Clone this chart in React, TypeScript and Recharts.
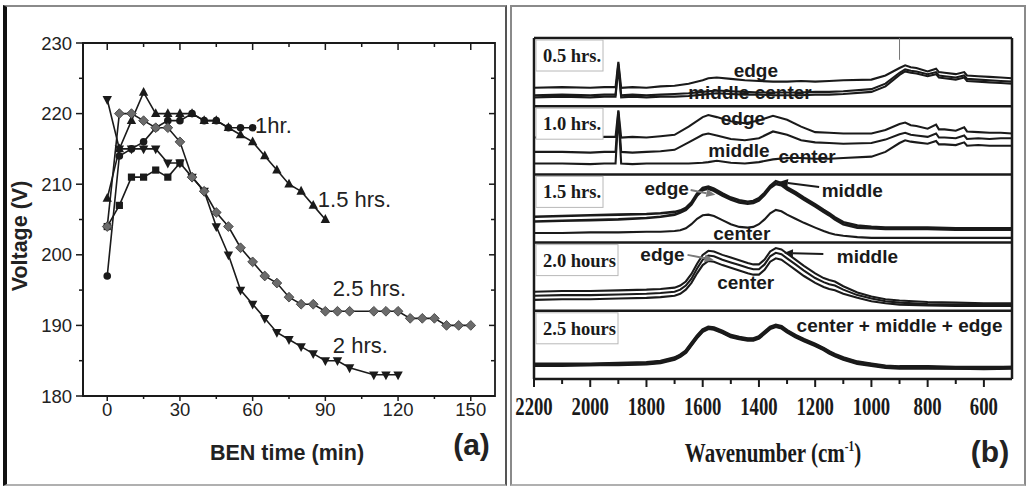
import React from "react";
import {
  LineChart,
  Line,
  XAxis,
  YAxis,
  ReferenceArea,
  ReferenceDot,
  ReferenceLine,
} from "recharts";

const SANS = '"Liberation Sans", Arial, Helvetica, sans-serif';
const SERIF = '"Liberation Serif", "Times New Roman", Times, serif';
const INK = "#1a1a1a";

/* ---------- (a) discharge voltage during BEN ---------- */

const T_05 = [0, 5, 10, 15, 20, 25, 30];
const V_05 = [204, 207, 211, 211, 212, 211, 213];

const T_10 = [0, 5, 10, 15, 20, 25, 30, 35, 40, 45, 50, 55, 60];
const V_10 = [197, 214, 215, 216, 218, 219, 219, 220, 219, 219, 218, 218, 218];

const T_15 = [0, 5, 10, 15, 20, 25, 30, 35, 40, 45, 50, 55, 60, 65, 70, 75, 80, 85, 90];
const V_15 = [208, 215, 219, 223, 220, 220, 220, 220, 219, 219, 218, 217, 216, 214, 212, 210, 209, 207, 205];

const T_20 = [0, 5, 10, 15, 20, 25, 30, 35, 40, 45, 50, 55, 60, 65, 70, 75, 80, 85, 90, 95, 100, 110, 115, 120];
const V_20 = [222, 215, 215, 215, 215, 213, 213, 211, 209, 204, 200, 195, 193, 191, 189, 188, 187, 186, 185, 185, 184, 183, 183, 183];

const T_25 = [
  0, 5, 10, 15, 20, 25, 30, 35, 40, 45, 50, 55, 60, 65, 70, 75, 80, 85, 90, 95, 100,
  110, 115, 120, 125, 130, 135, 140, 145, 150,
];
const V_25 = [
  204, 220, 220, 219, 218, 218, 216, 211, 209, 206, 204, 201, 199, 197, 196, 194, 193, 193, 192, 192, 192,
  192, 192, 192, 191, 191, 191, 190, 190, 190,
];

const TIME_TICKS = [0, 15, 30, 45, 60, 75, 90, 105, 120, 135, 150];
const VOLT_TICKS = [180, 185, 190, 195, 200, 205, 210, 215, 220, 225, 230];

// where the run names sit (left end of text, vertical middle)
const RUN_TAGS = [
  { text: "1hr.", t: 61, v: 218.4 },
  { text: "1.5 hrs.", t: 86.9, v: 207.9 },
  { text: "2.5 hrs.", t: 93.1, v: 195.2 },
  { text: "2 hrs.", t: 93.1, v: 187.2 },
];

/* ---------- (b) Raman spectra, stacked by treatment time ---------- */

const WN_A = [
  2200, 2100, 2000, 1950, 1910, 1900, 1890, 1850, 1800, 1750, 1700, 1650, 1600, 1580, 1550,
  1500, 1450, 1400, 1350, 1300, 1250, 1200, 1150, 1100, 1000, 950, 900, 880, 860, 840,
  800, 770, 760, 740, 700, 670, 660, 620, 580, 540, 500,
];
const S05_EDGE = [
  27, 28, 27, 28, 28, 65, 27, 28, 27, 29, 30, 33, 38, 41, 42,
  40, 38, 37, 36, 36, 37, 36, 37, 38, 39, 45, 56, 60, 57, 56,
  51, 55, 50, 49, 47, 50, 45, 44, 43, 42, 41,
];
const S05_MIDDLE = [
  16, 17, 16, 17, 17, 62, 16, 17, 16, 17, 18, 19, 21, 22, 23,
  22, 21, 20, 20, 20, 20, 21, 21, 22, 25, 33, 49, 54, 52, 51,
  47, 50, 45, 44, 42, 45, 40, 39, 38, 37, 36,
];
const S05_CENTER = [
  13, 14, 13, 14, 14, 58, 13, 14, 13, 14, 14, 15, 17, 18, 19,
  18, 17, 17, 16, 16, 16, 17, 17, 18, 21, 29, 46, 51, 49, 48,
  44, 47, 42, 41, 39, 42, 37, 36, 35, 34, 33,
];
const S10_EDGE = [
  54, 55, 54, 55, 55, 94, 54, 55, 54, 56, 58, 70, 84, 87, 84,
  78, 75, 79, 86, 80, 70, 62, 61, 60, 60, 65, 74, 76, 72, 71,
  67, 73, 66, 66, 64, 69, 63, 62, 61, 61, 60,
];
const S10_MIDDLE = [
  33, 33, 32, 33, 33, 92, 33, 32, 33, 34, 36, 47, 58, 60, 57,
  52, 50, 53, 63, 58, 50, 47, 46, 45, 46, 51, 59, 61, 58, 57,
  55, 60, 54, 54, 53, 57, 52, 53, 52, 53, 53,
];
const S10_CENTER = [
  16, 16, 15, 16, 16, 88, 16, 15, 16, 16, 16, 16, 17, 18, 20,
  17, 16, 18, 22, 24, 24, 23, 23, 24, 26, 33, 46, 50, 48, 47,
  45, 49, 44, 44, 43, 47, 42, 43, 42, 42, 42,
];

const WN_B = [
  2200, 2100, 2000, 1900, 1800, 1750, 1700, 1680, 1660, 1640,
  1620, 1600, 1580, 1560, 1530, 1500, 1470, 1440, 1420, 1400,
  1380, 1360, 1340, 1320, 1300, 1270, 1240, 1200, 1170, 1150,
  1130, 1100, 1050, 1000, 950, 900, 800, 700, 600, 500,
];
const S15_EDGE = [
  38, 39, 40, 41, 42, 43, 45, 47, 51, 59,
  72, 80, 82, 79, 72, 66, 62, 60, 61, 65,
  73, 83, 90, 87, 81, 74, 66, 56, 48, 43,
  37, 30, 25, 23, 22, 22, 22, 21, 21, 21,
];
const S15_MIDDLE = [
  31, 32, 33, 34, 36, 38, 41, 44, 48, 56,
  69, 77, 79, 76, 69, 63, 59, 57, 58, 62,
  70, 80, 86, 84, 78, 71, 63, 53, 45, 40,
  34, 27, 22, 21, 20, 20, 20, 19, 19, 19,
];
const S15_CENTER = [
  14, 14, 15, 15, 16, 16, 17, 18, 21, 27,
  35, 40, 41, 39, 33, 27, 23, 22, 23, 27,
  34, 43, 48, 46, 41, 35, 29, 22, 17, 14,
  12, 10, 8, 7, 7, 7, 7, 7, 7, 7,
];
const S20_EDGE = [
  28, 29, 29, 30, 31, 32, 34, 37, 43, 54,
  69, 82, 88, 87, 82, 78, 74, 70, 68, 68,
  75, 87, 92, 90, 84, 75, 66, 55, 48, 45,
  43, 36, 27, 21, 17, 15, 13, 12, 11, 11,
];
const S20_MIDDLE = [
  22, 23, 23, 24, 25, 26, 28, 31, 37, 47,
  62, 75, 81, 80, 75, 71, 67, 63, 61, 61,
  68, 80, 85, 83, 77, 68, 59, 48, 42, 39,
  37, 31, 23, 18, 14, 12, 10, 9, 9, 9,
];
const S20_CENTER = [
  16, 17, 17, 18, 19, 20, 22, 25, 31, 41,
  55, 67, 73, 72, 67, 63, 59, 55, 53, 53,
  60, 72, 77, 75, 69, 60, 51, 41, 35, 32,
  30, 25, 19, 14, 11, 9, 8, 7, 7, 7,
];
const S25_CENTER = [
  20, 20, 21, 21, 22, 24, 29, 33, 39, 50,
  61, 70, 74, 73, 68, 62, 59, 57, 57, 60,
  67, 74, 77, 75, 69, 62, 56, 49, 43, 38,
  34, 29, 23, 20, 17, 16, 16, 16, 15, 16,
];
const S25_MIDDLE = [
  21, 21, 21, 22, 23, 25, 30, 34, 40, 51,
  62, 71, 75, 74, 69, 63, 60, 58, 58, 61,
  68, 75, 78, 76, 70, 63, 57, 50, 44, 39,
  35, 30, 24, 21, 18, 17, 17, 16, 16, 17,
];
const S25_EDGE = [
  22, 22, 22, 23, 24, 26, 31, 35, 41, 52,
  63, 72, 76, 75, 70, 64, 61, 59, 59, 62,
  69, 76, 79, 77, 71, 64, 58, 51, 45, 40,
  36, 31, 25, 22, 19, 18, 18, 17, 17, 17,
];

const WN_TICKS = [2200, 2100, 2000, 1900, 1800, 1700, 1600, 1500, 1400, 1300, 1200, 1100, 1000, 900, 800, 700, 600];
const BAND_EDGES = [100, 200, 300, 400, 500];

// each band is 100 units tall; 0 = 2.5 hours at the bottom, 4 = 0.5 hrs at the top
const BAND_TAGS = [
  { text: "0.5 hrs.", band: 4, w: 67 },
  { text: "1.0 hrs.", band: 3, w: 67 },
  { text: "1.5 hrs.", band: 2, w: 67 },
  { text: "2.0 hours", band: 1, w: 82 },
  { text: "2.5 hours", band: 0, w: 82 },
];

const NOTES = [
  { text: "edge", w: 1411, y: 452 },
  { text: "middle center", w: 1432, y: 421 },
  { text: "edge", w: 1457, y: 383 },
  { text: "middle", w: 1471, y: 336 },
  { text: "center", w: 1229, y: 327 },
  { text: "edge", w: 1728, y: 279 },
  { text: "middle", w: 1068, y: 277 },
  { text: "center", w: 1461, y: 214 },
  { text: "edge", w: 1743, y: 183 },
  { text: "center", w: 1447, y: 142 },
  { text: "middle", w: 1014, y: 180 },
  { text: "center + middle + edge", w: 900, y: 79 },
];

const ARROWS = [
  { from: [1643, 277], to: [1555, 270], color: "#7a7a7a" },
  { from: [1186, 281.5], to: [1329, 289], color: INK },
  { from: [1654, 182], to: [1561, 174.5], color: "#7a7a7a" },
  { from: [1171, 183.3], to: [1311, 184.8], color: INK },
];

/* ---------- helpers ---------- */

const runPoints = (ts: number[], vs: number[]) => ts.map((t, i) => ({ t, v: vs[i] }));
const bandPoints = (wn: number[], vals: number[], band: number) =>
  wn.map((w, i) => ({ w, y: vals[i] + band * 100 }));

type Mark = "square" | "circle" | "up" | "down" | "diamond";

const RUNS: { id: string; data: { t: number; v: number }[]; mark: Mark }[] = [
  { id: "0.5", data: runPoints(T_05, V_05), mark: "square" },
  { id: "1.0", data: runPoints(T_10, V_10), mark: "circle" },
  { id: "1.5", data: runPoints(T_15, V_15), mark: "up" },
  { id: "2.0", data: runPoints(T_20, V_20), mark: "down" },
  { id: "2.5", data: runPoints(T_25, V_25), mark: "diamond" },
];

const SPECTRA = [
  { id: "05e", data: bandPoints(WN_A, S05_EDGE, 4), width: 2.1 },
  { id: "05m", data: bandPoints(WN_A, S05_MIDDLE, 4), width: 2.1 },
  { id: "05c", data: bandPoints(WN_A, S05_CENTER, 4), width: 2.1 },
  { id: "10e", data: bandPoints(WN_A, S10_EDGE, 3), width: 2.1 },
  { id: "10m", data: bandPoints(WN_A, S10_MIDDLE, 3), width: 2.1 },
  { id: "10c", data: bandPoints(WN_A, S10_CENTER, 3), width: 2.1 },
  { id: "15e", data: bandPoints(WN_B, S15_EDGE, 2), width: 2.6 },
  { id: "15m", data: bandPoints(WN_B, S15_MIDDLE, 2), width: 2.6 },
  { id: "15c", data: bandPoints(WN_B, S15_CENTER, 2), width: 2.1 },
  { id: "20e", data: bandPoints(WN_B, S20_EDGE, 1), width: 2.1 },
  { id: "20m", data: bandPoints(WN_B, S20_MIDDLE, 1), width: 2.1 },
  { id: "20c", data: bandPoints(WN_B, S20_CENTER, 1), width: 2.1 },
  { id: "25c", data: bandPoints(WN_B, S25_CENTER, 0), width: 3.2 },
  { id: "25m", data: bandPoints(WN_B, S25_MIDDLE, 0), width: 3.2 },
  { id: "25e", data: bandPoints(WN_B, S25_EDGE, 0), width: 3.2 },
];

/* ---------- layout ---------- */

const A_MARGIN = { top: 43, right: 15, bottom: 61, left: 23 };
const A_W = 510;
const A_H = 487;
const A_TOP = A_MARGIN.top;
const A_RIGHT = A_W - A_MARGIN.right;

function markerRenderer(kind: Mark) {
  return (p: any) => {
    const { cx, cy, index } = p;
    const k = `${kind}-${index}`;
    if (typeof cx !== "number" || typeof cy !== "number") return <g key={k} />;
    if (kind === "circle") return <circle key={k} cx={cx} cy={cy} r={3.8} fill={INK} />;
    if (kind === "square")
      return <rect key={k} x={cx - 3.6} y={cy - 3.6} width={7.2} height={7.2} fill={INK} />;
    if (kind === "up")
      return (
        <polygon
          key={k}
          points={`${cx},${cy - 5.4} ${cx - 4.7},${cy + 3.4} ${cx + 4.7},${cy + 3.4}`}
          fill={INK}
        />
      );
    if (kind === "down")
      return (
        <polygon
          key={k}
          points={`${cx},${cy + 5.4} ${cx - 4.7},${cy - 3.4} ${cx + 4.7},${cy - 3.4}`}
          fill={INK}
        />
      );
    return (
      <polygon
        key={k}
        points={`${cx},${cy - 4.9} ${cx + 4.9},${cy} ${cx},${cy + 4.9} ${cx - 4.9},${cy}`}
        fill="#6b6b6b"
        stroke="#3a3a3a"
        strokeWidth={0.8}
      />
    );
  };
}

// bottom ticks point out, mirrored ticks on the top edge point in
function TimeTick(props: any) {
  const { x, y, payload } = props;
  const major = payload.value % 30 === 0;
  return (
    <g>
      <line x1={x} x2={x} y1={y} y2={y + (major ? 5 : 3)} stroke={INK} strokeWidth={1.5} />
      <line x1={x} x2={x} y1={A_TOP} y2={A_TOP + (major ? 7 : 4)} stroke={INK} strokeWidth={1.5} />
      {major && (
        <text x={x} y={y + 20} textAnchor="middle" fontFamily={SANS} fontSize={18.5} fill="#222">
          {payload.value}
        </text>
      )}
    </g>
  );
}

function VoltTick(props: any) {
  const { x, y, payload } = props;
  const major = payload.value % 10 === 0;
  return (
    <g>
      <line x1={x - (major ? 7 : 4)} x2={x} y1={y} y2={y} stroke={INK} strokeWidth={1.5} />
      <line x1={A_RIGHT - (major ? 6 : 4)} x2={A_RIGHT} y1={y} y2={y} stroke={INK} strokeWidth={1.5} />
      {major && (
        <text x={x - 11} y={y + 6.6} textAnchor="end" fontFamily={SANS} fontSize={18.5} fill="#222">
          {payload.value}
        </text>
      )}
    </g>
  );
}

function WaveTick(props: any) {
  const { x, y, payload } = props;
  const major = payload.value % 200 === 0;
  return (
    <g>
      <line x1={x} x2={x} y1={y} y2={y + (major ? 8 : 5)} stroke={INK} strokeWidth={2} />
      {major && (
        <text
          transform={`translate(${x},${y + 36}) scale(0.72,1)`}
          textAnchor="middle"
          fontFamily={SERIF}
          fontWeight="bold"
          fontSize={26}
          fill={INK}
        >
          {payload.value}
        </text>
      )}
    </g>
  );
}

function arrowShape(color: string) {
  return (p: any) => {
    const { x1, y1, x2, y2 } = p;
    const ang = Math.atan2(y2 - y1, x2 - x1);
    const len = 9;
    const half = 4;
    const bx = x2 - len * Math.cos(ang);
    const by = y2 - len * Math.sin(ang);
    const nx = -Math.sin(ang) * half;
    const ny = Math.cos(ang) * half;
    return (
      <g>
        <line x1={x1} y1={y1} x2={bx} y2={by} stroke={color} strokeWidth={2} />
        <polygon points={`${x2},${y2} ${bx + nx},${by + ny} ${bx - nx},${by - ny}`} fill={color} />
      </g>
    );
  };
}

function bandTag(text: string, w: number) {
  return (p: any) => {
    const vb = p.viewBox || {};
    const x = vb.x + 2;
    const y = vb.y + 2;
    return (
      <g>
        <rect x={x} y={y} width={w} height={31} fill="#fff" stroke="#b8b8b8" strokeWidth={1} />
        <text x={x + 7} y={y + 22} fontFamily={SERIF} fontWeight="bold" fontSize={18.5} fill={INK}>
          {text}
        </text>
      </g>
    );
  };
}

function VoltagePanel() {
  return (
    <LineChart width={A_W} height={A_H} margin={A_MARGIN}>
      <XAxis
        type="number"
        dataKey="t"
        domain={[-10, 160]}
        ticks={TIME_TICKS}
        interval={0}
        tickSize={0}
        tickMargin={0}
        tickLine={false}
        tick={TimeTick}
        axisLine={{ stroke: INK, strokeWidth: 2 }}
        height={30}
        allowDataOverflow
        label={{
          content: (p: any) => {
            const vb = p.viewBox || {};
            return (
              <g>
                <text
                  x={vb.x + vb.width / 2 - 2}
                  y={vb.y + 64}
                  textAnchor="middle"
                  fontFamily={SANS}
                  fontWeight="bold"
                  fontSize={21.5}
                  fill="#222"
                >
                  BEN time (min)
                </text>
                <text
                  x={vb.x + vb.width - 23.5}
                  y={vb.y + 59}
                  textAnchor="middle"
                  fontFamily={SANS}
                  fontWeight="bold"
                  fontSize={30}
                  fill="#222"
                >
                  (a)
                </text>
              </g>
            );
          },
        }}
      />
      <YAxis
        type="number"
        domain={[180, 230]}
        ticks={VOLT_TICKS}
        interval={0}
        tickSize={0}
        tickMargin={0}
        tickLine={false}
        tick={VoltTick}
        axisLine={{ stroke: INK, strokeWidth: 2 }}
        width={60}
        allowDataOverflow
        label={{
          content: (p: any) => {
            const vb = p.viewBox || {};
            const x = vb.x + 4;
            const y = vb.y + vb.height / 2 + 16.5;
            return (
              <text
                x={x}
                y={y}
                transform={`rotate(-90 ${x} ${y})`}
                textAnchor="middle"
                fontFamily={SANS}
                fontWeight="bold"
                fontSize={21.5}
                fill="#222"
              >
                Voltage (V)
              </text>
            );
          },
        }}
      />
      <ReferenceArea x1={-10} x2={160} y1={180} y2={230} fill="none" stroke={INK} strokeWidth={1.8} />
      {RUNS.map((r) => (
        <Line
          key={r.id}
          data={r.data}
          dataKey="v"
          stroke={INK}
          strokeWidth={1.6}
          dot={markerRenderer(r.mark)}
          activeDot={false}
          isAnimationActive={false}
        />
      ))}
      {RUN_TAGS.map((tag) => (
        <ReferenceDot
          key={tag.text}
          x={tag.t}
          y={tag.v}
          r={0}
          stroke="none"
          fill="none"
          label={{
            value: tag.text,
            position: "right",
            offset: 0,
            fontFamily: SANS,
            fontSize: 22,
            fill: "#222",
          }}
        />
      ))}
    </LineChart>
  );
}

function SpectraPanel() {
  return (
    <LineChart width={515} height={487} margin={{ top: 38, right: 15, bottom: 68, left: 22 }}>
      <XAxis
        type="number"
        dataKey="w"
        domain={[500, 2200]}
        reversed
        ticks={WN_TICKS}
        interval={0}
        tickSize={0}
        tickMargin={0}
        tickLine={false}
        tick={WaveTick}
        axisLine={{ stroke: INK, strokeWidth: 2.5 }}
        height={40}
        allowDataOverflow
        label={{
          content: (p: any) => {
            const vb = p.viewBox || {};
            const cx = vb.x + vb.width / 2;
            return (
              <g>
                <text
                  transform={`translate(${cx},${vb.y + 83}) scale(0.75,1)`}
                  textAnchor="middle"
                  fontFamily={SERIF}
                  fontWeight="bold"
                  fontSize={28}
                  fill={INK}
                >
                  Wavenumber (cm
                  <tspan dy={-11} fontSize={15}>
                    -1
                  </tspan>
                  <tspan dy={11}>)</tspan>
                </text>
                <text
                  x={vb.x + vb.width - 22}
                  y={vb.y + 83}
                  textAnchor="middle"
                  fontFamily={SANS}
                  fontWeight="bold"
                  fontSize={30}
                  fill="#222"
                >
                  (b)
                </text>
              </g>
            );
          },
        }}
      />
      <YAxis hide type="number" domain={[0, 500]} allowDataOverflow />
      {BAND_EDGES.map((b) => (
        <ReferenceLine key={b} y={b} stroke={INK} strokeWidth={2.5} />
      ))}
      <ReferenceLine x={2200} stroke={INK} strokeWidth={2.5} />
      <ReferenceLine x={500} stroke={INK} strokeWidth={2.5} />
      <ReferenceLine
        segment={[
          { x: 900, y: 500 },
          { x: 900, y: 468 },
        ]}
        stroke="#777"
        strokeWidth={1}
      />
      {SPECTRA.map((s) => (
        <Line
          key={s.id}
          data={s.data}
          dataKey="y"
          stroke={INK}
          strokeWidth={s.width}
          dot={false}
          activeDot={false}
          isAnimationActive={false}
        />
      ))}
      {BAND_TAGS.map((b) => (
        <ReferenceDot
          key={b.text}
          x={2200}
          y={(b.band + 1) * 100}
          r={0}
          stroke="none"
          fill="none"
          label={{ content: bandTag(b.text, b.w) }}
        />
      ))}
      {NOTES.map((n, i) => (
        <ReferenceDot
          key={`note-${i}`}
          x={n.w}
          y={n.y}
          r={0}
          stroke="none"
          fill="none"
          label={{
            value: n.text,
            position: "center",
            fontFamily: SANS,
            fontWeight: "bold",
            fontSize: 19,
            fill: INK,
          }}
        />
      ))}
      {ARROWS.map((a, i) => (
        <ReferenceLine
          key={`arrow-${i}`}
          segment={[
            { x: a.from[0], y: a.from[1] },
            { x: a.to[0], y: a.to[1] },
          ]}
          stroke={a.color}
          shape={arrowShape(a.color)}
        />
      ))}
    </LineChart>
  );
}

export default function App() {
  return (
    <div
      style={{
        position: "absolute",
        left: 0,
        top: 0,
        width: 1027,
        height: 487,
        background: "#fff",
        overflow: "hidden",
      }}
    >
      <div
        style={{
          position: "absolute",
          left: 3,
          top: 5,
          width: 504,
          height: 481,
          boxSizing: "border-box",
          borderLeft: "4px solid #111",
          borderTop: "2px solid #8a8a8a",
          borderRight: "2px solid #555",
          borderBottom: "2px solid #b0b0b0",
        }}
      />
      <div
        style={{
          position: "absolute",
          left: 510,
          top: 5,
          width: 516,
          height: 481,
          boxSizing: "border-box",
          borderLeft: "2px solid #8a8a8a",
          borderTop: "2px solid #8a8a8a",
          borderRight: "2px solid #8a8a8a",
          borderBottom: "2px solid #b0b0b0",
        }}
      />
      <div style={{ position: "absolute", left: 0, top: 0 }}>
        <VoltagePanel />
      </div>
      <div style={{ position: "absolute", left: 512, top: 0 }}>
        <SpectraPanel />
      </div>
    </div>
  );
}
